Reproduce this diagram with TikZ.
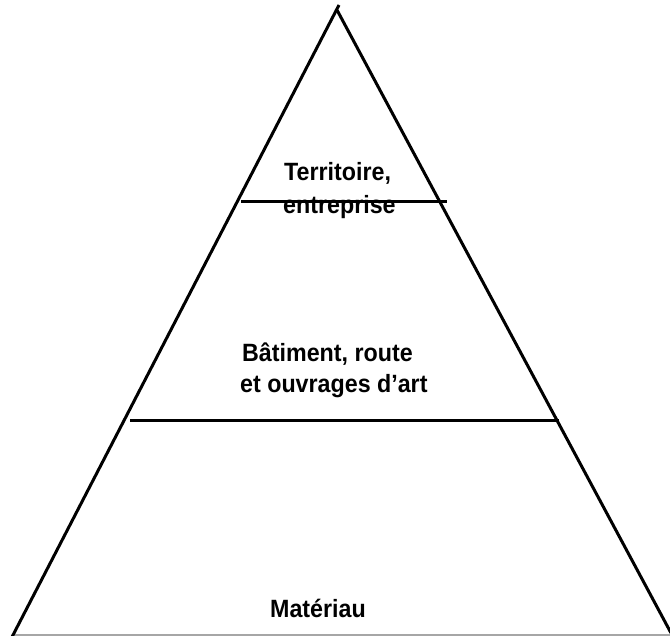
\documentclass[tikz,border=0pt]{standalone}
\usepackage{fontspec}
\setmainfont{Liberation Sans}
\newfontfamily\lblfont[FakeStretch=0.93]{Liberation Sans}
\begin{document}
\begin{tikzpicture}[x=1pt,y=-1pt,
  edge/.style={line width=3pt,black},
  level/.style={line width=3pt,black},
  lbl/.style={inner sep=0pt,anchor=base west,font=\lblfont\fontsize{25}{30}\selectfont\bfseries}]
\useasboundingbox (0,0) rectangle (670,636);
% corners
\coordinate (apexL) at (339,5);
\coordinate (apexR) at (337,10);
\coordinate (baseL) at (12,637);
\coordinate (baseR) at (671,633);
\coordinate (g1) at (12,635);
\coordinate (g2) at (670,635);
\coordinate (h1a) at (241,202);
\coordinate (h1b) at (447,202);
\coordinate (h2a) at (130,421);
\coordinate (h2b) at (559,421);
% labels
\node[lbl] (t1) at (284,181) {Territoire,};
\node[lbl] (t2) at (283,214) {entreprise};
\node[lbl] (b1) at (242,362) {Bâtiment, route};
\node[lbl] (b2) at (240,393) {et ouvrages d’art};
\node[lbl] (m1) at (270,617) {Matériau};
% lines
\draw[gray!70,line width=1.5pt] (g1) -- (g2);
\draw[edge] (apexL) -- (baseL);
\draw[edge] (apexR) -- (baseR);
\draw[level] (h1a) -- (h1b);
\draw[level] (h2a) -- (h2b);
\end{tikzpicture}
\end{document}
